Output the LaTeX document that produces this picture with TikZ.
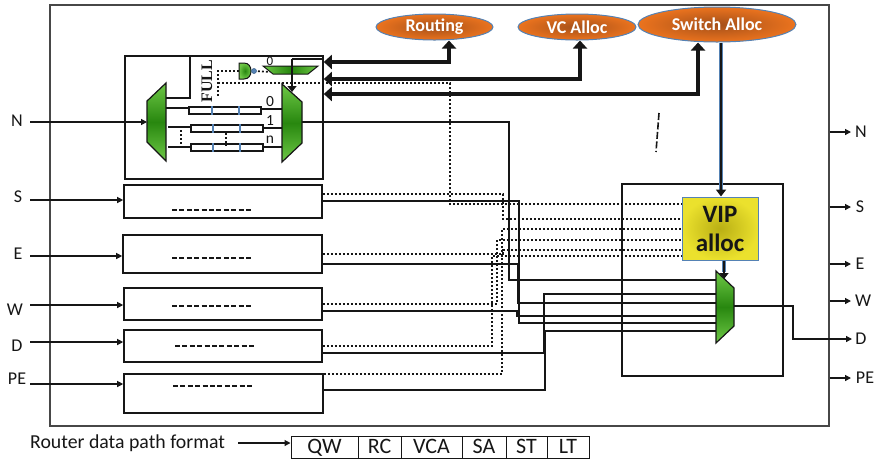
\documentclass[tikz,border=0pt]{standalone}
\usepackage{fontspec}
\setmainfont{Carlito}
\newfontfamily\serifbold{Liberation Serif}
\usetikzlibrary{arrows.meta,shapes.geometric}
\definecolor{inkc}{RGB}{22,22,22}
\definecolor{bluec}{RGB}{85,130,180}
\definecolor{orangeo}{RGB}{235,115,30}
\definecolor{orangei}{RGB}{165,80,25}
\definecolor{greeno}{RGB}{110,200,70}
\definecolor{greeni}{RGB}{40,135,15}
\definecolor{yellowo}{RGB}{235,225,45}
\definecolor{yellowi}{RGB}{185,175,20}
\tikzset{
  x=1pt,y=-1pt,
  portbox/.style={draw=inkc,line width=1.6pt,minimum width=#1,inner sep=0pt,fill=white},
  wire/.style={draw=inkc,line width=1.4pt},
  dotwire/.style={draw=inkc,line width=1.7pt,dash pattern=on 1.8pt off 2.2pt},
  thickarrow/.style={draw=inkc,line width=3.6pt,{Stealth[length=8pt,width=14pt,inset=0pt]}-{Stealth[length=8pt,width=14pt,inset=0pt]}},
  portarrow/.style={draw=inkc,line width=1.2pt,-{Stealth[length=6pt,width=6pt,inset=0pt]}},
  alloc/.style={ellipse,draw=bluec,line width=1pt,inner sep=0pt,shading=radial,inner color=orangei,outer color=orangeo,text=white,font=\bfseries\fontsize{18}{20}\selectfont},
  portlabel/.style={inner sep=0pt,font=\fontsize{18}{20}\selectfont,text=inkc},
  fmtcell/.style={draw=inkc,line width=1pt,inner sep=0pt,minimum height=22pt,text height=14.5pt,text depth=2.5pt,font=\fontsize{22}{24}\selectfont,text=inkc},
  bufcell/.style={draw=inkc,line width=1.4pt,fill=white,inner sep=0pt,minimum width=72pt,minimum height=7pt},
  tick/.style={draw=bluec,line width=1.1pt},
  muxshade/.style={draw=inkc,line width=1.2pt,top color=greeno,bottom color=greeno,middle color=greeni},
  dashrow/.style={draw=inkc,line width=1.4pt,dash pattern=on 5pt off 2.4pt},
  smalldigit/.style={inner sep=0pt,font=\fontsize{15.5}{17}\selectfont,text=inkc},
}
\begin{document}
\begin{tikzpicture}
\useasboundingbox (0,0) rectangle (877,459);
% frame
\node[draw=black!72,line width=1.3pt,inner sep=0pt,minimum width=779pt,minimum height=421pt] (frame) at (439.5,215.5) {};
% containers
\node[draw=inkc,line width=1.6pt,inner sep=0pt,minimum width=161pt,minimum height=192pt] (vipbox) at (702.5,280) {};
\node[portbox=198pt,minimum height=123pt] (nbox) at (224,117.5) {};
\node[portbox=198pt,minimum height=33pt] (sbox) at (223,201.5) {};
\node[portbox=199pt,minimum height=38pt] (ebox) at (222.5,254) {};
\node[portbox=198pt,minimum height=32pt] (wbox) at (223,304) {};
\node[portbox=198pt,minimum height=32pt] (dbox) at (223,346) {};
\node[portbox=199pt,minimum height=39pt] (pebox) at (223.5,393.5) {};
% allocators
\node[alloc,minimum width=117pt,minimum height=26pt] (routing) at (434.5,27) {Routing};
\node[alloc,minimum width=118pt,minimum height=26pt] (vcalloc) at (577,27) {VC Alloc};
\node[alloc,minimum width=158pt,minimum height=35pt] (swalloc) at (717,24.5) {Switch Alloc};
\node[draw=bluec,line width=1pt,minimum width=76pt,minimum height=63pt,inner sep=0pt,shading=radial,inner color=yellowi,outer color=yellowo,align=center,font=\bfseries\fontsize{25}{29}\selectfont,text=inkc] (vip) at (720,228.5) {VIP\\alloc};
% mux coordinates
\coordinate (muxtop) at (716,271);
\coordinate (muxout) at (734,306);
\coordinate (nin) at (147,122);
\coordinate (nout) at (302,122);
% dotted wires
\draw[dotwire] (218,96) -- (218,71) -- (239,71);
\draw[dotwire] (254,71) -- (270,72);
\draw[dotwire] (218,83) -- (450,83) -- (450,204) -- (vip.west |- 0,204);
\draw[dotwire] (sbox.east |- 0,194) -- (503,194) -- (503,219) -- (vip.west |- 0,219);
\draw[dotwire] (ebox.east |- 0,254) -- (503,254) -- (503,250) -- (vip.west |- 0,250);
\draw[dotwire] (wbox.east |- 0,304) -- (497,304) -- (497,240) -- (vip.west |- 0,240);
\draw[dotwire] (dbox.east |- 0,346) -- (492,346) -- (492,256) -- (vip.west |- 0,256);
\draw[dotwire] (pebox.east |- 0,374) -- (502,374) -- (502,229) -- (vip.west |- 0,229);
% solid wires to mux
\draw[wire] (nout) -- (509,122) -- (509,280) -- (716,280);
\draw[wire] (sbox.east |- 0,201) -- (519,201) -- (519,323) -- (716,323);
\draw[wire] (ebox.east |- 0,264) -- (518,264) -- (518,303) -- (716,303);
\draw[wire] (wbox.east |- 0,311) -- (517,311) -- (517,316) -- (716,316);
\draw[wire] (dbox.east |- 0,353) -- (544,353) -- (544,294) -- (716,294);
\draw[wire] (pebox.east |- 0,390) -- (545,390) -- (545,331) -- (716,331);
% thick control arrows
\draw[thickarrow] (nbox.east |- 0,62) -- (449,62) -- (449,0 |- routing.south);
\draw[thickarrow] (nbox.east |- 0,79) -- (580,79) -- (580,0 |- vcalloc.south);
\draw[thickarrow] (nbox.east |- 0,94) -- (698,94) -- (698,0 |- swalloc.south);
% switch to VIP
\draw[draw=bluec,line width=4.6pt] (swalloc.south -| 721,0) -- (721,191);
\draw[draw=inkc,line width=2.8pt,-{Stealth[length=7pt,width=10pt,inset=0pt]}] (swalloc.south -| 721,0) -- (vip.north -| 721,0);
\draw[draw=bluec,line width=4.6pt] (vip.south -| 724,0) -- (724,272);
\draw[draw=inkc,line width=2.8pt,-{Stealth[length=6pt,width=9pt,inset=0pt]}] (vip.south -| 724,0) -- (724,279);
% output mux
\shadedraw[muxshade] (muxtop) -- (734,288) -- (734,326) -- (716,343) -- cycle;
\draw[wire] (muxout) -- (793,306) -- (793,339) -- (845,339);
\draw[portarrow] (840,339) -- (852,339);
% input ports
\node[portlabel] (ln) at (17,121) {N};
\node[portlabel] (ls) at (18,197) {S};
\node[portlabel] (le) at (18,254) {E};
\node[portlabel] (lw) at (15,310) {W};
\node[portlabel] (ld) at (17,346) {D};
\node[portlabel] (lpe) at (17,379) {PE};
\draw[portarrow] (30,122) -- (nin);
\draw[portarrow] (30,200) -- (sbox.west |- 0,200);
\draw[portarrow] (30,256) -- (ebox.west |- 0,256);
\draw[portarrow] (30,305) -- (wbox.west |- 0,305);
\draw[portarrow] (30,342) -- (dbox.west |- 0,342);
\draw[portarrow] (30,384) -- (pebox.west |- 0,384);
% output ports
\node[portlabel] (rn) at (861,132) {N};
\node[portlabel] (rs) at (860,207) {S};
\node[portlabel] (re) at (860,264) {E};
\node[portlabel] (rw) at (863,301) {W};
\node[portlabel] (rd) at (861,339) {D};
\node[portlabel] (rpe) at (865,378) {PE};
\coordinate (arrowend) at (851,0);
\draw[portarrow] (frame.east |- 0,132) -- (arrowend |- rn);
\draw[portarrow] (frame.east |- 0,207) -- (arrowend |- rs);
\draw[portarrow] (frame.east |- 0,264) -- (arrowend |- re);
\draw[portarrow] (frame.east |- 0,301) -- (arrowend |- rw);
\draw[portarrow] (frame.east |- 0,378) -- (arrowend |- rpe);
% dashed rows
\draw[dashrow] (172,210) -- (253,210);
\draw[dashrow] (172,258) -- (253,258);
\draw[dashrow] (172,306) -- (253,306);
\draw[dashrow] (175,346) -- (255,346);
\draw[dashrow] (173,386) -- (253,386);
% slanted dash
\draw[draw=inkc,line width=1.6pt,dash pattern=on 7pt off 2.5pt] (659,113) -- (656,152);
% N port internals
\draw[draw=inkc,line width=2.8pt] (166,98) -- (190,98) -- (190,56);
\draw[wire] (166,108) -- (189,108);
\draw[wire] (168,127) -- (191,127);
\draw[wire] (168,147) -- (191,147);
\draw[wire] (261,109) -- (282,109);
\draw[wire] (263,128) -- (282,128);
\draw[wire] (263,147) -- (282,147);
\draw[dotwire] (181,130) -- (181,144);
\shadedraw[muxshade] (166,83) -- (147,101) -- (147,142) -- (166,161) -- cycle;
\shadedraw[muxshade] (282,84) -- (302,102) -- (302,143) -- (282,162) -- cycle;
\node[bufcell] (buf0) at (225,110.5) {};
\node[bufcell] (buf1) at (227,128.5) {};
\node[bufcell] (bufn) at (227,147.5) {};
\foreach \b/\xa/\xb in {buf0/212/239,buf1/213/240,bufn/213/240}{
  \draw[tick] (\xa,0 |- \b.north) -- (\xa,0 |- \b.south);
  \draw[tick] (\xb,0 |- \b.north) -- (\xb,0 |- \b.south);
}
\draw[dotwire] (226,133) -- (226,146);
\node[smalldigit] (l0) at (270,102) {0};
\node[smalldigit] (l1) at (270,121) {1};
\node[smalldigit] (ln2) at (270,140) {n};
\node[rotate=90,inner sep=0pt,font=\serifbold\bfseries\fontsize{16}{18}\selectfont,text=inkc] (full) at (207,81) {FULL};
\node[inner sep=0pt,font=\fontsize{13}{15}\selectfont,text=inkc] (lz) at (270,61) {0};
% mini mux and gate
\shadedraw[draw=inkc,line width=1pt,left color=greeno,right color=greeno,middle color=greeni] (263,66) -- (318,66) -- (308,74) -- (273,74) -- cycle;
\shadedraw[draw=inkc,line width=1pt,shading=radial,inner color=greeni,outer color=greeno] (239,63) -- (244,63) .. controls (249,63) and (251,67) .. (251,71) .. controls (251,75) and (249,79) .. (244,79) -- (239,79) -- cycle;
\draw[draw=bluec!80!black,fill=bluec,line width=.6pt] (254,71) circle (2.5);
\draw[draw=inkc,line width=1.4pt] (nbox.east |- 0,59) -- (292,59);
\draw[draw=inkc,line width=2.8pt,-{Stealth[length=6pt,width=9pt,inset=0pt]}] (292,59) -- (292,92);
% format row
\node[inner sep=0pt,anchor=west,font=\fontsize{19.8}{22}\selectfont,text=inkc] (fmt) at (30,443) {Router data path format};
\node[fmtcell,minimum width=67pt] (qw) at (324.5,447) {QW};
\node[fmtcell,minimum width=43pt] (rc) at (379.5,447) {RC};
\node[fmtcell,minimum width=61pt] (vca) at (431.5,447) {VCA};
\node[fmtcell,minimum width=44pt] (sa) at (484,447) {SA};
\node[fmtcell,minimum width=41pt] (st) at (526.5,447) {ST};
\node[fmtcell,minimum width=42pt] (lt) at (568,447) {LT};
\draw[portarrow] (238,443) -- (qw.west |- 0,443);
\end{tikzpicture}
\end{document}
